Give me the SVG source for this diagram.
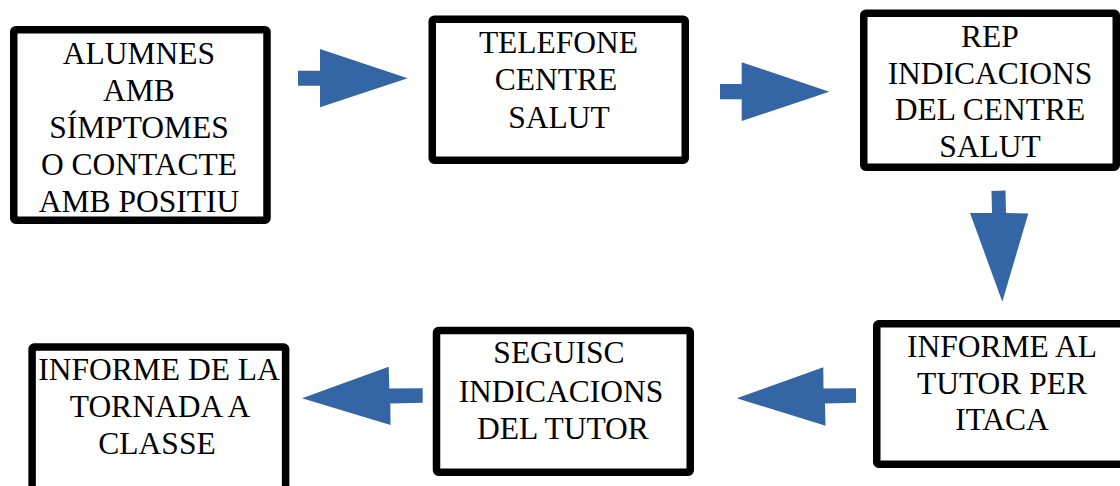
<svg xmlns="http://www.w3.org/2000/svg" width="1120" height="486" viewBox="0 0 1120 486">
<style>
.box{fill:#ffffff;stroke:#000000;stroke-width:7.5;stroke-linejoin:round}
.arr{fill:#3465a4}
</style>
<rect width="1120" height="486" fill="#ffffff"/>
<g font-family="Liberation Serif" font-size="31.5" fill="#000000" text-anchor="middle">
<g id="node1">
<rect class="box" x="13.75" y="29.75" width="253.25" height="190.5" rx="2"/>
<text x="139" y="64">ALUMNES</text>
<text x="139" y="101">AMB</text>
<text x="139" y="138">SÍMPTOMES</text>
<text x="139" y="175">O CONTACTE</text>
<text x="139" y="212">AMB POSITIU</text>
</g>
<g id="node2">
<rect class="box" x="432.25" y="19.25" width="253" height="141" rx="2"/>
<text x="558.5" y="53">TELEFONE</text>
<text x="556" y="90">CENTRE</text>
<text x="559" y="128">SALUT</text>
</g>
<g id="node3">
<rect class="box" x="863.75" y="13.25" width="252.5" height="154" rx="2"/>
<text x="990" y="47">REP</text>
<text x="990" y="83.5">INDICACIONS</text>
<text x="990" y="120">DEL CENTRE</text>
<text x="990" y="157">SALUT</text>
</g>
<g id="node4">
<rect class="box" x="876.75" y="323.75" width="256" height="140.5" rx="2"/>
<text x="1002" y="357">INFORME AL</text>
<text x="1002" y="393.5">TUTOR PER</text>
<text x="1002" y="430">ITACA</text>
</g>
<g id="node5">
<rect class="box" x="436.5" y="330.5" width="253.75" height="141.75" rx="2"/>
<text x="559" y="363">SEGUISC</text>
<text x="561" y="401.5">INDICACIONS</text>
<text x="563" y="439">DEL TUTOR</text>
</g>
<g id="node6">
<rect class="box" x="32.1" y="347.1" width="253.5" height="150" rx="2"/>
<text x="159" y="380">INFORME DE LA</text>
<text x="160" y="417">TORNADA A</text>
<text x="157" y="454">CLASSE</text>
</g>
</g>
<g id="connectors">
<polygon class="arr" points="298,70.7 320,70.7 320,49 407.7,78.3 320,107.3 320,85.7 298,85.7"/>
<polygon class="arr" points="720,84 741.7,84 741.7,62.3 829.3,91.7 741.7,121 741.7,99.3 720,99.3"/>
<polygon class="arr" points="991.5,191 1005.5,190.5 1006,213 1028.3,213.5 1002.3,301.7 970,213 992,213"/>
<polygon class="arr" points="856,388.3 856,402.7 825,403.5 825.5,425.7 736.7,398.3 823.3,367.3 823.5,388.5"/>
<polygon class="arr" points="422.7,388.3 422.7,402.7 390.3,403.5 390.5,425 302,398.3 388.7,366.7 389.3,388.5"/>
</g>
</svg>
